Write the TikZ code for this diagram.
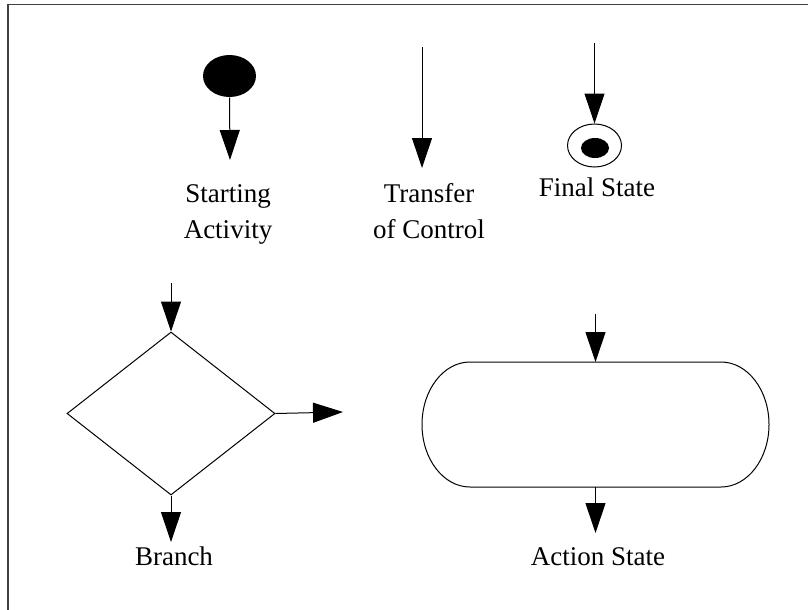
\documentclass[tikz,border=0pt]{standalone}
\usepackage{fontspec}
\setmainfont{Liberation Serif}
\usetikzlibrary{arrows.meta,shapes.geometric,calc}

\begin{document}
\begin{tikzpicture}[x=1pt,y=-1pt,
  line width=1pt,
  flow/.style={-{Triangle[length=30pt,width=20pt]}},
  caption/.style={anchor=base,align=center,inner sep=0pt,
    font=\fontsize{27}{36}\selectfont},
  frame/.style={line width=1.6pt,black!75}]
\useasboundingbox (0,0) rectangle (808,610);

% outer frame (only top and left edges show)
\draw[frame] (8,610) -- (8,4.5) -- (808,4.5);

% starting activity
\node[ellipse,fill=black,minimum width=53pt,minimum height=42pt,inner sep=0pt] (start) at (229.5,76) {};
\coordinate (startend) at (230,160);
\draw[flow] (start.south) -- (startend);
\node[caption] (startlbl) at (228,238) {Starting\\Activity};

% transfer of control
\coordinate (tr0) at (422,47);
\coordinate (tr1) at (422,168);
\draw[flow] (tr0) -- (tr1);
\node[caption] (trlbl) at (429,238) {Transfer\\of Control};

% final state
\node[ellipse,draw,minimum width=54pt,minimum height=43pt,inner sep=0pt] (final) at (594.5,145.5) {};
\node[ellipse,fill=black,minimum width=28pt,minimum height=20pt,inner sep=0pt] (finalcore) at (595,148) {};
\coordinate (fin0) at (594.5,43);
\draw[flow] (fin0) -- (final.north);
\node[caption] (finlbl) at (597,196) {Final State};

% branch
\node[diamond,draw,aspect=1.276,minimum width=208pt,minimum height=163pt,inner sep=0pt] (branch) at (171,413.5) {};
\coordinate (br0) at (171,283);
\coordinate (br1) at (343,412);
\coordinate (br2) at (171,542);
\draw[flow] (br0) -- (branch.north);
\draw[flow] (branch.east) -- (br1);
\draw[flow] (branch.south) -- (br2);
\node[caption] (brlbl) at (174,565) {Branch};

% action state
\node[minimum width=347pt,minimum height=125pt,inner sep=0pt,outer sep=0pt] (action) at (595.5,424.5) {};
\draw ($(action.north west)+(48,0)$) -- ($(action.north east)+(-48,0)$)
  arc[start angle=-90,end angle=90,x radius=48,y radius=62.5]
  -- ($(action.south west)+(48,0)$)
  arc[start angle=90,end angle=270,x radius=48,y radius=62.5] -- cycle;
\coordinate (ac0) at (595.5,314);
\coordinate (ac1) at (595.5,533);
\draw[flow] (ac0) -- (action.north);
\draw[flow] (action.south) -- (ac1);
\node[caption] (aclbl) at (598,565) {Action State};
\end{tikzpicture}
\end{document}
